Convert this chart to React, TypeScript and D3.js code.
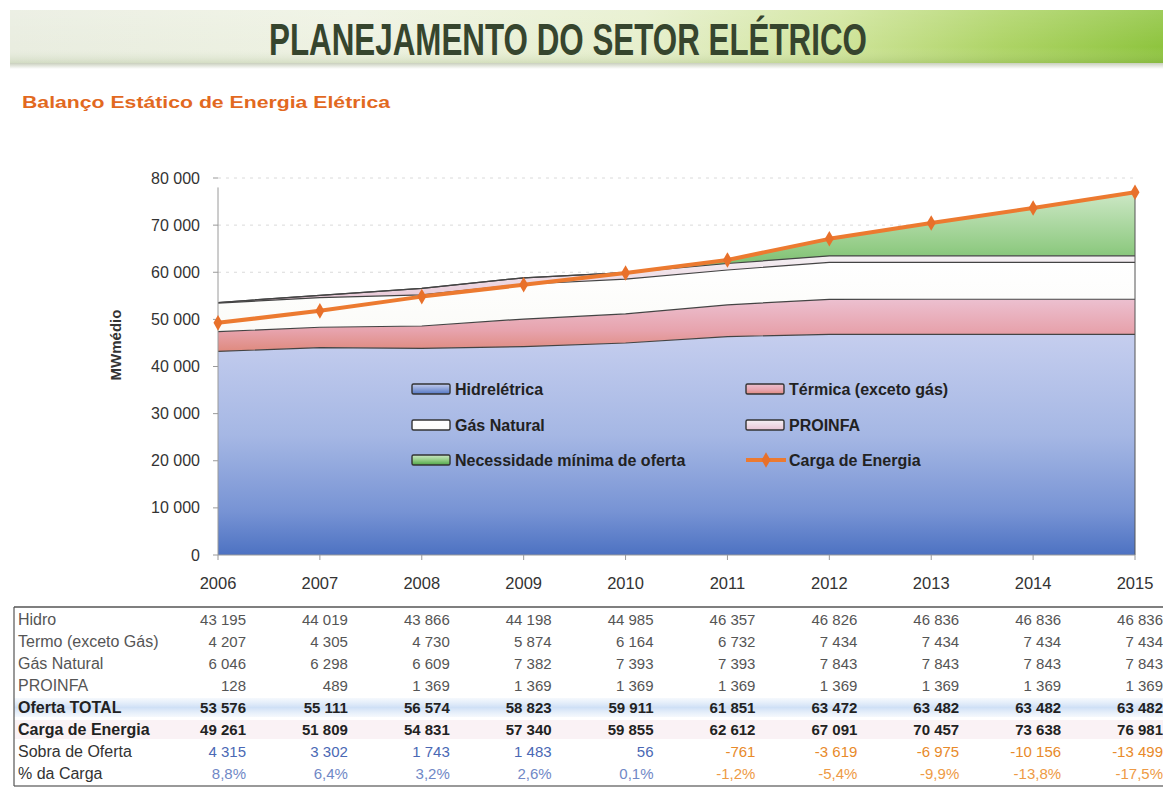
import React from "react";
import * as d3 from "d3";

// ---- data ----
const years = [2006, 2007, 2008, 2009, 2010, 2011, 2012, 2013, 2014, 2015];
const hidro = [43195, 44019, 43866, 44198, 44985, 46357, 46826, 46836, 46836, 46836];
const termo = [4207, 4305, 4730, 5874, 6164, 6732, 7434, 7434, 7434, 7434];
const gasNatural = [6046, 6298, 6609, 7382, 7393, 7393, 7843, 7843, 7843, 7843];
const proinfa = [128, 489, 1369, 1369, 1369, 1369, 1369, 1369, 1369, 1369];
const necessidade = [0, 0, 0, 0, 0, 761, 3619, 6975, 10156, 13499];
const ofertaTotal = [53576, 55111, 56574, 58823, 59911, 61851, 63472, 63482, 63482, 63482];
const cargaEnergia = [49261, 51809, 54831, 57340, 59855, 62612, 67091, 70457, 73638, 76981];
const sobraOferta = [4315, 3302, 1743, 1483, 56, -761, -3619, -6975, -10156, -13499];
const pctCarga = [8.8, 6.4, 3.2, 2.6, 0.1, -1.2, -5.4, -9.9, -13.8, -17.5];
const yTicks = [0, 10000, 20000, 30000, 40000, 50000, 60000, 70000, 80000];

const seriesKeys = ["hidro", "termo", "gas", "proinfa", "necessidade"];
const legendItems = [
  { key: "hidro", label: "Hidrelétrica", col: 0, row: 0 },
  { key: "termo", label: "Térmica (exceto gás)", col: 1, row: 0 },
  { key: "gas", label: "Gás Natural", col: 0, row: 1 },
  { key: "proinfa", label: "PROINFA", col: 1, row: 1 },
  { key: "necessidade", label: "Necessidade mínima de oferta", col: 0, row: 2 },
  { key: "carga", label: "Carga de Energia", col: 1, row: 2 },
];

const tableRows = [
  { label: "Hidro", values: hidro, kind: "plain" },
  { label: "Termo (exceto Gás)", values: termo, kind: "plain" },
  { label: "Gás Natural", values: gasNatural, kind: "plain" },
  { label: "PROINFA", values: proinfa, kind: "plain" },
  { label: "Oferta TOTAL", values: ofertaTotal, kind: "bold" },
  { label: "Carga de Energia", values: cargaEnergia, kind: "bold" },
  { label: "Sobra de Oferta", values: sobraOferta, kind: "sobra" },
  { label: "% da Carga", values: pctCarga, kind: "pct" },
];

const locale = d3.formatLocale({
  decimal: ",",
  thousands: " ",
  grouping: [3],
  currency: ["", ""],
  minus: "-",
});
const fmtInt = locale.format(",d");
const fmtPct = (v: number) => locale.format(".1f")(v) + "%";

const fillFor: Record<string, string> = {
  hidro: "url(#gHidro)",
  termo: "url(#gTermo)",
  gas: "url(#gGas)",
  proinfa: "url(#gProinfa)",
  necessidade: "url(#gNec)",
};

export default function App() {
  const W = 1163;
  const H = 789;
  const x = d3.scaleLinear().domain([2006, 2015]).range([218, 1135]);
  const y = d3.scaleLinear().domain([0, 80000]).range([555, 178]);

  const table = years.map((yr, i) => ({
    year: yr,
    hidro: hidro[i],
    termo: termo[i],
    gas: gasNatural[i],
    proinfa: proinfa[i],
    necessidade: necessidade[i],
  }));
  const stacked = d3.stack<any>().keys(seriesKeys)(table);
  const area = d3
    .area<any>()
    .x((d) => x(d.data.year))
    .y0((d) => y(d[0]))
    .y1((d) => y(d[1]));
  const topLine = d3
    .line<any>()
    .x((d) => x(d.data.year))
    .y((d) => y(d[1]));
  const cargaLine = d3
    .line<number>()
    .x((_, i) => x(years[i]))
    .y((d) => y(d));
  const diamond = d3.symbol().type(d3.symbolDiamond).size(70)() as string;

  const rowTop = 608;
  const rowH = 22;
  const colRight = (yr: number) => x(yr) + 28;

  const legX = [412, 746];
  const legY = [389, 425, 460];

  return (
    <svg
      width={W}
      height={H}
      style={{ position: "absolute", left: 0, top: 0, background: "#fff" }}
      fontFamily="'Liberation Sans', Arial, sans-serif"
    >
      <defs>
        <linearGradient id="gBanner" x1="0" y1="0" x2="1" y2="0">
          <stop offset="0" stopColor="#e9ede0" />
          <stop offset="0.3" stopColor="#eef2e2" />
          <stop offset="0.55" stopColor="#e6efcc" />
          <stop offset="0.72" stopColor="#cfe49a" />
          <stop offset="0.86" stopColor="#aed466" />
          <stop offset="1" stopColor="#8ec43e" />
        </linearGradient>
        <linearGradient id="gBannerV" x1="0" y1="0" x2="0" y2="1">
          <stop offset="0" stopColor="#ffffff" stopOpacity="0.15" />
          <stop offset="0.7" stopColor="#ffffff" stopOpacity="0" />
          <stop offset="1" stopColor="#6a8a40" stopOpacity="0.18" />
        </linearGradient>
        <linearGradient id="gShadow" x1="0" y1="0" x2="0" y2="1">
          <stop offset="0" stopColor="#c9cfbd" />
          <stop offset="1" stopColor="#ffffff" />
        </linearGradient>
        <linearGradient id="gHidro" gradientUnits="userSpaceOnUse" x1="0" y1={y(46000)} x2="0" y2={y(0)}>
          <stop offset="0" stopColor="#c4cdee" />
          <stop offset="0.45" stopColor="#a5b7e4" />
          <stop offset="0.8" stopColor="#7793d4" />
          <stop offset="1" stopColor="#4d72c2" />
        </linearGradient>
        <linearGradient id="gTermo" x1="0" y1="0" x2="0" y2="1">
          <stop offset="0" stopColor="#ecc0d0" />
          <stop offset="0.6" stopColor="#e7a3ad" />
          <stop offset="1" stopColor="#df8a7e" />
        </linearGradient>
        <linearGradient id="gGas" x1="0" y1="0" x2="0" y2="1">
          <stop offset="0" stopColor="#ffffff" />
          <stop offset="1" stopColor="#fbfbf8" />
        </linearGradient>
        <linearGradient id="gProinfa" x1="0" y1="0" x2="0" y2="1">
          <stop offset="0" stopColor="#f4f1f4" />
          <stop offset="1" stopColor="#e8c4d4" />
        </linearGradient>
        <linearGradient id="gNec" x1="0" y1="0" x2="0" y2="1">
          <stop offset="0" stopColor="#cde8c6" />
          <stop offset="0.5" stopColor="#93cc86" />
          <stop offset="1" stopColor="#4fa646" />
        </linearGradient>
        <linearGradient id="gSwHidro" x1="0" y1="0" x2="0" y2="1">
          <stop offset="0" stopColor="#c4cdee" />
          <stop offset="1" stopColor="#5477c4" />
        </linearGradient>
        <linearGradient id="gOferta" x1="0" y1="0" x2="0" y2="1">
          <stop offset="0" stopColor="#dde9f8" stopOpacity="0.3" />
          <stop offset="0.5" stopColor="#cfe0f6" />
          <stop offset="1" stopColor="#dde9f8" stopOpacity="0.3" />
        </linearGradient>
      </defs>

      {/* Banner */}
      <rect x={10} y={10} width={W - 10} height={53} fill="url(#gBanner)" />
      <rect x={10} y={10} width={W - 10} height={53} fill="url(#gBannerV)" />
      <rect x={10} y={63} width={W - 10} height={6} fill="url(#gShadow)" />
      <text
        x={568}
        y={55}
        textAnchor="middle"
        fontFamily="'Liberation Sans', Arial, sans-serif"
        fontWeight="bold"
        fontSize={45}
        fill="#36452e"
        textLength={598}
        lengthAdjust="spacingAndGlyphs"
      >
        PLANEJAMENTO DO SETOR ELÉTRICO
      </text>

      {/* Subtitle */}
      <text
        x={22}
        y={108}
        fontWeight="bold"
        fontSize={17}
        fill="#e2691f"
        textLength={368}
        lengthAdjust="spacingAndGlyphs"
      >
        Balanço Estático de Energia Elétrica
      </text>

      {/* Grid lines */}
      {yTicks.slice(1).map((t) => (
        <line
          key={"g" + t}
          x1={x(2006)}
          x2={x(2015)}
          y1={y(t)}
          y2={y(t)}
          stroke="#dadada"
          strokeWidth={1}
          strokeDasharray="3 5"
        />
      ))}

      {/* Stacked areas */}
      {stacked.map((s: any) => (
        <path key={s.key} d={area(s) as string} fill={fillFor[s.key]} stroke="none" />
      ))}
      {stacked.map((s: any) => (
        <path
          key={"l" + s.key}
          d={topLine(s) as string}
          fill="none"
          stroke="#444"
          strokeWidth={1.2}
        />
      ))}
      <line x1={x(2015)} x2={x(2015)} y1={y(0)} y2={y(cargaEnergia[9])} stroke="#555" strokeWidth={1} />

      {/* Axes */}
      <line x1={x(2006)} x2={x(2006)} y1={y(0)} y2={y(78000)} stroke="#9a9a9a" strokeWidth={1} />
      <line x1={x(2006)} x2={x(2015)} y1={y(0)} y2={y(0)} stroke="#9a9a9a" strokeWidth={1} />
      {yTicks.map((t) => (
        <g key={"yt" + t}>
          <line x1={x(2006) - 5} x2={x(2006)} y1={y(t)} y2={y(t)} stroke="#9a9a9a" />
          <text x={200} y={y(t) + 5.5} textAnchor="end" fontSize={16} fill="#333">
            {fmtInt(t)}
          </text>
        </g>
      ))}
      {years.map((yr) => (
        <g key={"xt" + yr}>
          <line x1={x(yr)} x2={x(yr)} y1={y(0)} y2={y(0) + 5} stroke="#9a9a9a" />
          <text x={x(yr)} y={589} textAnchor="middle" fontSize={16.5} fill="#333">
            {yr}
          </text>
        </g>
      ))}
      <text
        transform={`translate(121,345) rotate(-90)`}
        textAnchor="middle"
        fontSize={15}
        fontWeight="bold"
        fill="#333"
      >
        MWmédio
      </text>

      {/* Carga line */}
      <path d={cargaLine(cargaEnergia) as string} fill="none" stroke="#ec7a30" strokeWidth={4} strokeLinejoin="round" />
      {cargaEnergia.map((v, i) => (
        <path key={"m" + i} d={diamond} transform={`translate(${x(years[i])},${y(v)})`} fill="#e8702a" />
      ))}

      {/* Legend */}
      {legendItems.map((it) => {
        const lx = legX[it.col];
        const ly = legY[it.row];
        return (
          <g key={"lg" + it.key}>
            {it.key === "carga" ? (
              <g>
                <line x1={lx} x2={lx + 40} y1={ly} y2={ly} stroke="#ec7a30" strokeWidth={4} />
                <path d={diamond} transform={`translate(${lx + 20},${ly})`} fill="#e8702a" />
              </g>
            ) : (
              <rect
                x={lx}
                y={ly - 5}
                width={38}
                height={10}
                rx={1.5}
                fill={it.key === "hidro" ? "url(#gSwHidro)" : fillFor[it.key]}
                stroke="#333"
                strokeWidth={1.4}
              />
            )}
            <text x={lx + 43} y={ly + 5.5} fontSize={16} fontWeight="bold" fill="#222">
              {it.label}
            </text>
          </g>
        );
      })}

      {/* Table */}
      <rect x={14} y={rowTop + 4 * rowH + 2} width={W - 14} height={rowH - 3} fill="url(#gOferta)" />
      <rect x={14} y={rowTop + 5 * rowH + 2} width={W - 14} height={rowH - 3} fill="#faf2f5" />
      <line x1={14} x2={W} y1={rowTop - 1} y2={rowTop - 1} stroke="#555" strokeWidth={1.5} />
      <line x1={14} x2={W} y1={rowTop + 8 * rowH + 2} y2={rowTop + 8 * rowH + 2} stroke="#777" strokeWidth={1.5} />
      <line x1={14} x2={14} y1={rowTop - 1} y2={rowTop + 8 * rowH + 2} stroke="#555" strokeWidth={1.2} />
      {tableRows.map((r, ri) => {
        const cy = rowTop + ri * rowH + rowH / 2 + 5.5;
        const bold = r.kind === "bold";
        const labelColor = bold ? "#222" : r.kind === "plain" ? "#555" : "#333";
        return (
          <g key={"tr" + ri}>
            <text x={18} y={cy} fontSize={16} fontWeight={bold ? "bold" : "normal"} fill={labelColor}>
              {r.label}
            </text>
            {r.values.map((v, ci) => {
              let color = "#555";
              if (bold) color = "#222";
              if (r.kind === "sobra") color = v >= 0 ? "#4a68b4" : "#e88a2a";
              if (r.kind === "pct") color = v >= 0 ? "#7088c6" : "#ee9a45";
              const txt = r.kind === "pct" ? fmtPct(v) : fmtInt(v);
              return (
                <text
                  key={"c" + ci}
                  x={colRight(years[ci])}
                  y={cy}
                  textAnchor="end"
                  fontSize={15}
                  fontWeight={bold ? "bold" : "normal"}
                  fill={color}
                >
                  {txt}
                </text>
              );
            })}
          </g>
        );
      })}
    </svg>
  );
}
